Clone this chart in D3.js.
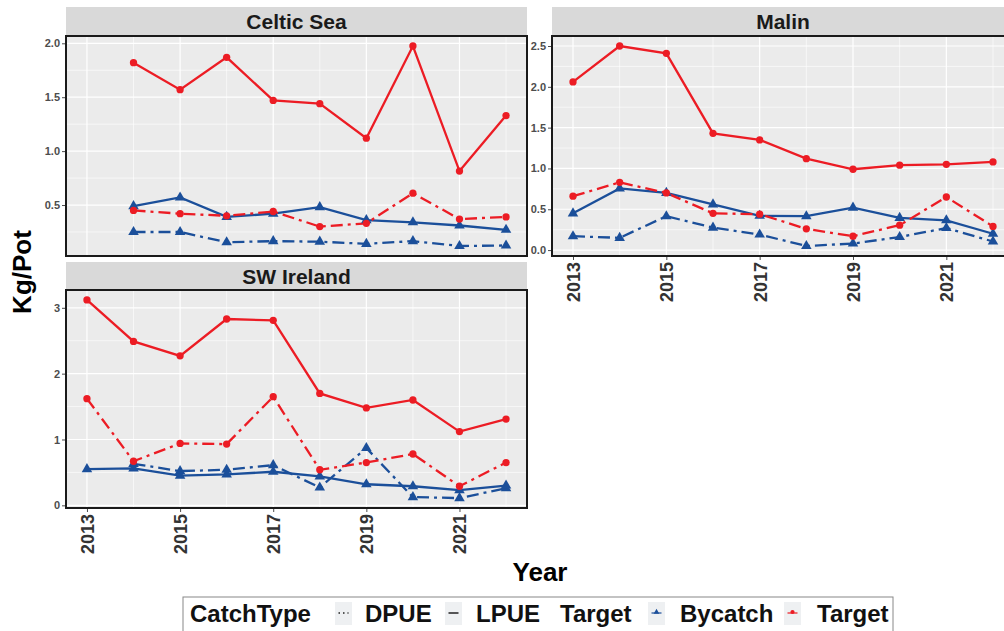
<!DOCTYPE html>
<html>
<head>
<meta charset="utf-8">
<script src="https://cdn.jsdelivr.net/npm/d3@7"></script>
<style>
  body { margin: 0; background: #fff; }
  svg { display: block; font-family: 'Liberation Sans', Arial, sans-serif; }
</style>
</head>
<body>
<div id="chart"></div>
<script>
// values, one array per region / catch type / measure
const years = [2013, 2014, 2015, 2016, 2017, 2018, 2019, 2020, 2021, 2022];
const regions = ['Celtic Sea', 'Malin', 'SW Ireland'];
const catchTypes = ['DPUE', 'LPUE'];
const targetTypes = ['Bycatch', 'Target'];

const celticTargetLPUE = [null, 1.82, 1.57, 1.87, 1.47, 1.44, 1.12, 1.975, 0.815, 1.33];
const celticTargetDPUE = [null, 0.45, 0.42, 0.40, 0.44, 0.30, 0.33, 0.61, 0.37, 0.39];
const celticBycatchLPUE = [null, 0.49, 0.57, 0.39, 0.42, 0.48, 0.36, 0.34, 0.31, 0.27];
const celticBycatchDPUE = [null, 0.25, 0.25, 0.155, 0.165, 0.16, 0.14, 0.165, 0.12, 0.125];

const malinTargetLPUE = [2.06, 2.50, 2.41, 1.43, 1.35, 1.12, 0.99, 1.04, 1.05, 1.08];
const malinTargetDPUE = [0.66, 0.83, 0.70, 0.45, 0.44, 0.26, 0.17, 0.305, 0.65, 0.29];
const malinBycatchLPUE = [0.45, 0.755, 0.70, 0.56, 0.42, 0.415, 0.52, 0.395, 0.365, 0.20];
const malinBycatchDPUE = [0.17, 0.15, 0.415, 0.275, 0.19, 0.05, 0.08, 0.16, 0.27, 0.105];

const swTargetLPUE = [3.12, 2.49, 2.27, 2.83, 2.81, 1.70, 1.48, 1.60, 1.12, 1.31];
const swTargetDPUE = [1.62, 0.67, 0.94, 0.93, 1.65, 0.54, 0.65, 0.78, 0.29, 0.65];
const swBycatchLPUE = [0.55, 0.56, 0.45, 0.47, 0.51, 0.44, 0.32, 0.29, 0.23, 0.30];
const swBycatchDPUE = [null, 0.63, 0.52, 0.54, 0.61, 0.27, 0.87, 0.125, 0.11, 0.26];

const xTicks = [2013, 2015, 2017, 2019, 2021];

function drawChart() {
  const w = 1004;
  const h = 631;
  const red = '#ec1c24';
  const blue = '#1b4f9a';
  const dotdash = '12,5,3,5';

  const svg = d3.select('#chart').append('svg').attr('width', w).attr('height', h);

  // series per region: [catchType, target, values]
  const seriesByRegion = {
    'Celtic Sea': [
      ['DPUE', 'Bycatch', celticBycatchDPUE], ['LPUE', 'Bycatch', celticBycatchLPUE],
      ['DPUE', 'Target', celticTargetDPUE], ['LPUE', 'Target', celticTargetLPUE],
    ],
    Malin: [
      ['DPUE', 'Bycatch', malinBycatchDPUE], ['LPUE', 'Bycatch', malinBycatchLPUE],
      ['DPUE', 'Target', malinTargetDPUE], ['LPUE', 'Target', malinTargetLPUE],
    ],
    'SW Ireland': [
      ['DPUE', 'Bycatch', swBycatchDPUE], ['LPUE', 'Bycatch', swBycatchLPUE],
      ['DPUE', 'Target', swTargetDPUE], ['LPUE', 'Target', swTargetLPUE],
    ],
  };

  // facet boxes (ggplot facet_wrap, free y)
  const panels = [
    { name: 'Celtic Sea', x0: 66, x1: 527, y0: 36, y1: 256, strip: 7, xAxis: false, fmt: '.1f', step: 0.5 },
    { name: 'Malin', x0: 552, x1: 1014, y0: 36, y1: 256, strip: 7, xAxis: true, fmt: '.1f', step: 0.5 },
    { name: 'SW Ireland', x0: 66, x1: 527, y0: 290, y1: 508, strip: 262, xAxis: true, fmt: 'd', step: 1 },
  ];

  const colour = (t) => (t === 'Target' ? red : blue);

  panels.forEach((p) => {
    const series = seriesByRegion[p.name];
    const all = series.flatMap((s) => s[2]).filter((v) => v != null);
    const ext = d3.extent(all);
    const pad = (ext[1] - ext[0]) * 0.05;

    const x = d3.scaleLinear().domain([2013 - 0.45, 2022 + 0.45]).range([p.x0, p.x1]);
    const y = d3.scaleLinear().domain([ext[0] - pad, ext[1] + pad]).range([p.y1, p.y0]);

    const yMajor = d3.range(Math.ceil(y.domain()[0] / p.step) * p.step, y.domain()[1] + 1e-9, p.step);
    const yMinor = d3.range(Math.floor(y.domain()[0] / p.step) * p.step + p.step / 2, y.domain()[1], p.step)
      .filter((v) => v > y.domain()[0]);
    const xMinor = [2014, 2016, 2018, 2020, 2022];

    // strip
    svg.append('rect').attr('x', p.x0).attr('y', p.strip)
      .attr('width', p.x1 - p.x0).attr('height', p.y0 - p.strip).attr('fill', '#d9d9d9');
    svg.append('text').attr('x', (p.x0 + p.x1) / 2).attr('y', p.strip + 22)
      .attr('text-anchor', 'middle').attr('font-size', 21).attr('font-weight', 'bold')
      .attr('fill', '#1a1a1a').text(p.name);

    // panel background + grid
    svg.append('rect').attr('x', p.x0).attr('y', p.y0)
      .attr('width', p.x1 - p.x0).attr('height', p.y1 - p.y0).attr('fill', '#ebebeb');

    const grid = svg.append('g').attr('stroke', '#fff');
    grid.selectAll('line.ymin').data(yMinor).enter().append('line')
      .attr('x1', p.x0).attr('x2', p.x1).attr('y1', (d) => y(d)).attr('y2', (d) => y(d))
      .attr('stroke-width', 0.6);
    grid.selectAll('line.xmin').data(xMinor).enter().append('line')
      .attr('y1', p.y0).attr('y2', p.y1).attr('x1', (d) => x(d)).attr('x2', (d) => x(d))
      .attr('stroke-width', 0.6);
    grid.selectAll('line.ymaj').data(yMajor).enter().append('line')
      .attr('x1', p.x0).attr('x2', p.x1).attr('y1', (d) => y(d)).attr('y2', (d) => y(d))
      .attr('stroke-width', 1.2);
    grid.selectAll('line.xmaj').data(xTicks).enter().append('line')
      .attr('y1', p.y0).attr('y2', p.y1).attr('x1', (d) => x(d)).attr('x2', (d) => x(d))
      .attr('stroke-width', 1.2);

    // lines then points
    const line = d3.line()
      .defined((d) => d.v != null)
      .x((d) => x(d.year))
      .y((d) => y(d.v));

    series.forEach(([ct, tg, vals]) => {
      const pts = years.map((yr, i) => ({ year: yr, v: vals[i] }));
      svg.append('path').datum(pts)
        .attr('d', line)
        .attr('fill', 'none')
        .attr('stroke', colour(tg))
        .attr('stroke-width', 2.3)
        .attr('stroke-dasharray', ct === 'DPUE' ? dotdash : null);
    });

    series.forEach(([ct, tg, vals]) => {
      const pts = years.map((yr, i) => ({ year: yr, v: vals[i] })).filter((d) => d.v != null);
      const sym = d3.symbol().type(tg === 'Target' ? d3.symbolCircle : d3.symbolTriangle)
        .size(tg === 'Target' ? 42 : 48);
      svg.append('g').selectAll('path').data(pts).enter().append('path')
        .attr('d', sym)
        .attr('transform', (d) => `translate(${x(d.year)},${y(d.v)})`)
        .attr('fill', colour(tg));
    });

    // panel border
    svg.append('rect').attr('x', p.x0).attr('y', p.y0)
      .attr('width', p.x1 - p.x0).attr('height', p.y1 - p.y0)
      .attr('fill', 'none').attr('stroke', '#1a1a1a').attr('stroke-width', 2);

    // y axis
    const yAxis = d3.axisLeft(y).tickValues(yMajor).tickSize(3).tickPadding(2)
      .tickFormat(d3.format(p.fmt));
    const ya = svg.append('g').attr('transform', `translate(${p.x0 - 1},0)`).call(yAxis);
    ya.select('.domain').remove();
    ya.selectAll('line').attr('stroke', '#4d4d4d');
    ya.selectAll('text').attr('font-size', 11).attr('font-weight', 'bold')
      .attr('fill', '#4d4d4d').attr('font-family', 'Liberation Sans, Arial, sans-serif');

    // x axis, rotated labels
    if (p.xAxis) {
      const xAxis = d3.axisBottom(x).tickValues(xTicks).tickSize(3).tickFormat(d3.format('d'));
      const xa = svg.append('g').attr('transform', `translate(0,${p.y1 + 1})`).call(xAxis);
      xa.select('.domain').remove();
      xa.selectAll('line').attr('stroke', '#4d4d4d');
      xa.selectAll('text')
        .attr('transform', 'rotate(-90)')
        .attr('x', -5).attr('y', 0).attr('dy', '0.36em')
        .attr('text-anchor', 'end')
        .attr('font-size', 18).attr('font-weight', 'bold')
        .attr('fill', '#333').attr('font-family', 'Liberation Sans, Arial, sans-serif');
    }
  });

  // axis titles
  svg.append('text').attr('transform', 'translate(31,272) rotate(-90)')
    .attr('text-anchor', 'middle').attr('font-size', 26).attr('font-weight', 'bold')
    .text('Kg/Pot');
  svg.append('text').attr('x', 540).attr('y', 581)
    .attr('text-anchor', 'middle').attr('font-size', 26).attr('font-weight', 'bold')
    .text('Year');

  // legend at the bottom
  const lg = svg.append('g');
  lg.append('rect').attr('x', 183).attr('y', 597).attr('width', 710).attr('height', 50)
    .attr('fill', '#fff').attr('stroke', '#888').attr('stroke-width', 1);

  const legendText = [
    { x: 190, t: 'CatchType' },
    { x: 365, t: catchTypes[0] },
    { x: 476, t: catchTypes[1] },
    { x: 560, t: 'Target' },
    { x: 680, t: targetTypes[0] },
    { x: 817, t: targetTypes[1] },
  ];
  lg.selectAll('text').data(legendText).enter().append('text')
    .attr('x', (d) => d.x).attr('y', 622)
    .attr('font-size', 24).attr('font-weight', 'bold').attr('fill', '#111')
    .text((d) => d.t);

  const keys = [
    { x: 335, kind: 'DPUE' },
    { x: 445, kind: 'LPUE' },
    { x: 648, kind: 'Bycatch' },
    { x: 784, kind: 'Target' },
  ];
  keys.forEach((k) => {
    lg.append('rect').attr('x', k.x).attr('y', 602).attr('width', 17).attr('height', 23)
      .attr('fill', '#eef0f2');
    const cx = k.x + 8.5;
    if (k.kind === 'DPUE' || k.kind === 'LPUE') {
      lg.append('line').attr('x1', cx - 5).attr('x2', cx + 5).attr('y1', 613).attr('y2', 613)
        .attr('stroke', '#222').attr('stroke-width', 1.5)
        .attr('stroke-dasharray', k.kind === 'DPUE' ? '1.5,3' : null);
    } else {
      const c = colour(k.kind);
      lg.append('line').attr('x1', cx - 5).attr('x2', cx + 5).attr('y1', 613).attr('y2', 613)
        .attr('stroke', c).attr('stroke-width', 1.2);
      lg.append('path')
        .attr('d', d3.symbol().type(k.kind === 'Target' ? d3.symbolCircle : d3.symbolTriangle).size(14))
        .attr('transform', `translate(${cx},612)`).attr('fill', c);
    }
  });
}

window.onload = function () {
  drawChart();
};
</script>
</body>
</html>
